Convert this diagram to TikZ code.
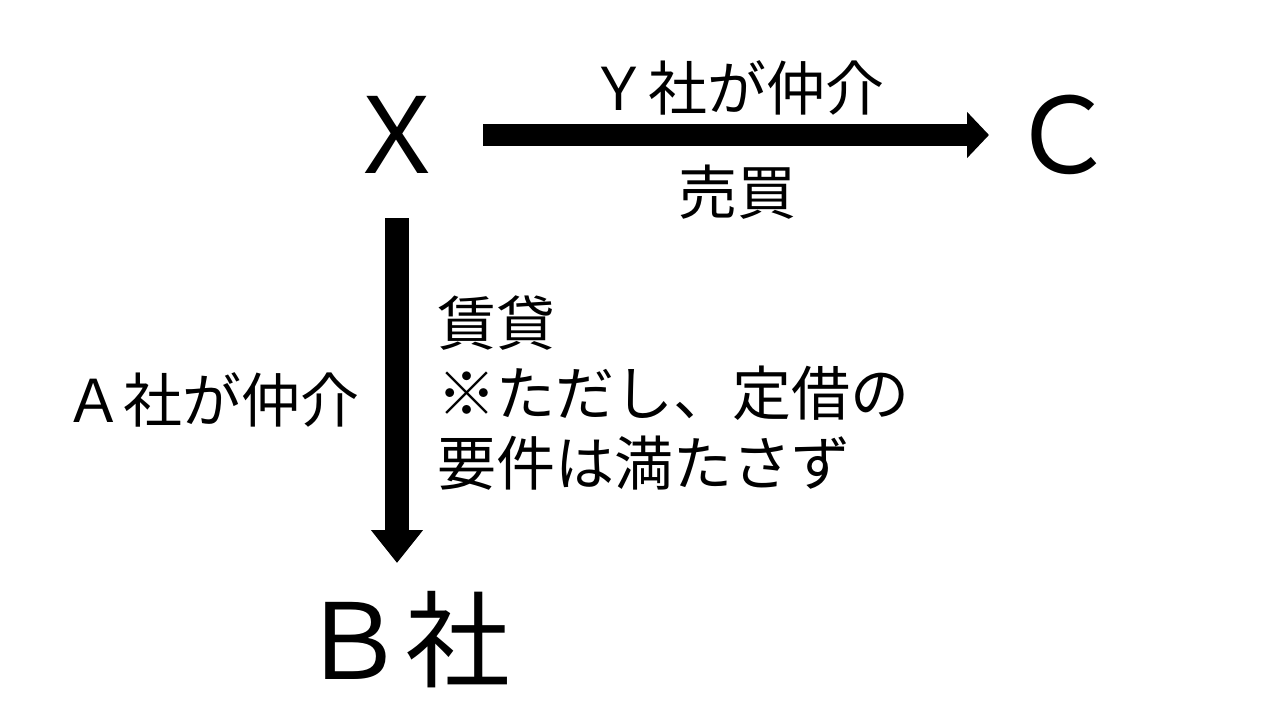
\documentclass[tikz,border=0pt]{standalone}
\usepackage{fontspec}
\setmainfont{Noto Sans CJK JP}
\usetikzlibrary{arrows.meta}
\begin{document}
\begin{tikzpicture}[x=1pt,y=-1pt,
  big/.style={font=\fontsize{105}{115}\selectfont,inner sep=0pt},
  lbl/.style={font=\fontsize{59}{70}\selectfont,inner sep=0pt}]
\useasboundingbox (0,0) rectangle (1280,720);
\node[big] (X) at (397,135) {Ｘ};
\node[big] (C) at (1063,135) {Ｃ};
\node[big] (B) at (405,640) {Ｂ社};
\node[lbl] (yc) at (737,88) {Ｙ社が仲介};
\node[lbl] (ba) at (737,192) {売買};
\node[lbl] (ac) at (212,400) {Ａ社が仲介};
\node[lbl,anchor=west,align=left] (ch) at (437,393) {賃貸\\※ただし、定借の\\要件は満たさず};
\draw[line width=22pt,-{Triangle[length=22pt,width=45pt]},shorten <=86pt,shorten >=74pt] (X.center) -- (C.center);
\draw[line width=24pt,-{Triangle[length=33pt,width=50pt]},shorten <=83pt,shorten >=77pt] (X.center) -- (X.center |- B.center);
\end{tikzpicture}
\end{document}
